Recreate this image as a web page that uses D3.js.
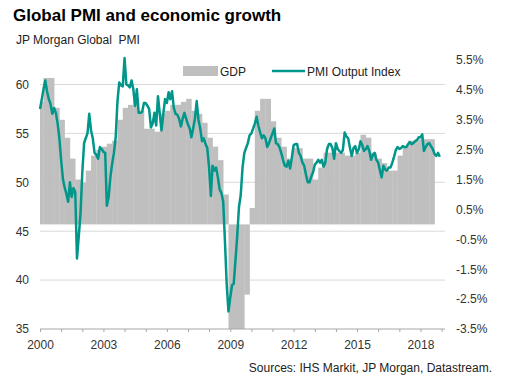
<!DOCTYPE html>
<html>
<head>
<meta charset="utf-8">
<script src="https://cdn.jsdelivr.net/npm/d3@7"></script>
<style>
  body { margin: 0; background: #fff; }
  svg text { font-family: Arial, "Liberation Sans", sans-serif; }
</style>
</head>
<body>
<div id="chart"></div>
<script>
// tick values
const yearLabels = [2000, 2003, 2006, 2009, 2012, 2015, 2018];
const pmiTicks = [35, 40, 45, 50, 55, 60];
const gdpTicks = [-3.5, -2.5, -1.5, -0.5, 0.5, 1.5, 2.5, 3.5, 4.5, 5.5];

// world GDP growth, % y/y, quarterly from 2000 Q1
const gdp = [
  4.1, 4.9, 4.9, 3.9,
  3.5, 2.9, 2.2, 1.5,
  1.4, 1.8, 2.3, 2.5,
  2.6, 2.7, 2.8, 3.5,
  3.9, 4.0, 4.2, 3.8,
  3.2, 3.2, 3.1, 3.7,
  3.8, 4.0, 4.0, 4.1,
  4.2, 3.8, 3.7, 3.4,
  2.9, 2.6, 2.15, 1.0,
  -3.8, -3.8, -3.8, -2.35,
  0.55, 3.8, 4.2, 4.2,
  3.45, 2.9, 2.6, 2.2,
  2.55, 2.55, 2.2, 2.2,
  1.5, 1.9, 2.4, 2.4,
  2.4, 2.4, 2.3, 2.3,
  2.4, 3.0, 2.9, 2.4,
  2.2, 2.05, 1.8, 1.8,
  2.3, 2.6, 2.8, 2.8,
  2.85, 2.85, 2.85
];

// JP Morgan Global PMI output index, monthly from Jan 2000
const pmi = [
  57.5, 58.5, 59.5, 60.4, 59.3, 58.5, 58.0, 57.0, 57.6, 57.1, 56.0, 54.5, // 2000
  52.2, 50.3, 49.5, 48.8, 48.0, 50.0, 48.5, 49.4, 49.0, 42.2, 44.5, 46.8, // 2001
  51.0, 54.0, 54.5, 55.0, 57.0, 55.3, 54.5, 53.0, 52.8, 52.4, 53.6, 53.4, // 2002
  53.1, 53.0, 47.6, 48.5, 50.5, 51.9, 53.0, 54.6, 58.3, 60.2, 59.9, 59.8, // 2003
  62.7, 60.0, 59.9, 59.7, 60.4, 59.5, 57.8, 59.5, 57.1, 57.1, 57.2, 58.1, // 2004
  58.1, 57.8, 57.5, 55.6, 56.0, 57.1, 55.8, 58.8, 57.0, 55.3, 57.0, 58.5, // 2005
  58.1, 59.2, 58.5, 59.3, 57.6, 57.0, 56.9, 56.5, 55.7, 56.5, 57.1, 56.5, // 2006
  55.9, 55.5, 54.6, 55.5, 56.5, 58.3, 56.4, 55.5, 54.2, 54.5, 53.9, 53.5, // 2007
  51.5, 48.6, 51.7, 51.2, 51.5, 50.5, 49.3, 48.9, 48.0, 44.0, 39.5, 36.8, // 2008
  38.2, 39.5, 39.6, 42.0, 44.5, 47.5, 48.7, 51.5, 53.0, 53.5, 54.0, 54.8, // 2009
  55.0, 55.5, 56.0, 56.7, 55.8, 55.1, 54.5, 54.8, 54.5, 53.6, 54.0, 54.5, // 2010
  55.0, 55.5, 54.0, 53.9, 53.6, 53.0, 52.3, 51.7, 51.6, 52.2, 51.4, 52.5, // 2011
  53.8, 53.9, 53.9, 53.0, 52.7, 52.0, 51.7, 50.8, 50.0, 50.0, 50.6, 51.0, // 2012
  51.8, 52.0, 52.3, 52.0, 52.3, 51.6, 52.0, 53.4, 53.9, 53.9, 53.5, 52.4, // 2013
  54.0, 53.4, 53.2, 53.0, 53.3, 55.1, 54.7, 54.5, 53.5, 52.7, 53.5, 53.7, // 2014
  53.0, 53.4, 54.2, 53.8, 53.2, 53.4, 53.7, 53.2, 52.3, 52.8, 53.0, 52.3, // 2015
  52.0, 51.2, 50.5, 51.7, 51.3, 51.2, 51.5, 51.5, 52.0, 52.6, 53.3, 53.6, // 2016
  53.4, 53.5, 53.7, 53.6, 53.6, 53.9, 54.1, 53.9, 54.0, 54.2, 54.3, 54.6, // 2017
  54.6, 54.9, 53.2, 53.6, 53.9, 54.0, 53.7, 53.4, 52.9, 52.7, 53.0, 52.6  // 2018
];

const width = 509;
const height = 387;
const plotLeft = 40, plotRight = 445, plotTop = 60, plotBottom = 329;

const svg = d3.select('#chart')
  .append('svg')
  .attr('width', width)
  .attr('height', height);

const start = new Date(2000, 0, 1);

const x = d3.scaleTime()
  .domain([start, new Date(2019, 2, 1)])
  .range([plotLeft, plotRight]);

const yL = d3.scaleLinear().domain([35, 62.5]).range([plotBottom, plotTop]);
const yR = d3.scaleLinear().domain([-3.5, 5.5]).range([plotBottom, plotTop]);

// titles
svg.append('text')
  .attr('x', 13).attr('y', 21)
  .attr('font-size', 17).attr('font-weight', 'bold')
  .attr('fill', '#000')
  .text('Global PMI and economic growth');

svg.append('text')
  .attr('x', 16).attr('y', 44)
  .attr('font-size', 12).attr('fill', '#222')
  .attr('xml:space', 'preserve')
  .text('JP Morgan Global  PMI');

// gridlines at left ticks
svg.append('g')
  .selectAll('line')
  .data(pmiTicks.filter(d => d > 35))
  .join('line')
  .attr('x1', plotLeft).attr('x2', plotRight)
  .attr('y1', d => yL(d)).attr('y2', d => yL(d))
  .attr('stroke', '#d9d9d9').attr('stroke-width', 1);

// clip to plot area
svg.append('clipPath').attr('id', 'plot')
  .append('rect')
  .attr('x', plotLeft).attr('y', plotTop - 10)
  .attr('width', plotRight - plotLeft).attr('height', plotBottom - plotTop + 10);

// GDP steps, one bar per quarter
const qStart = i => d3.timeMonth.offset(start, 3 * i - 1);
svg.append('g')
  .attr('clip-path', 'url(#plot)')
  .selectAll('rect')
  .data(gdp)
  .join('rect')
  .attr('x', (d, i) => x(qStart(i)))
  .attr('width', (d, i) => x(qStart(i + 1)) - x(qStart(i)) + 0.3)
  .attr('y', d => Math.min(yR(d), yR(0)))
  .attr('height', d => Math.abs(yR(d) - yR(0)))
  .attr('fill', '#bfbfbf');

// PMI line
const line = d3.line()
  .x((d, i) => x(d3.timeMonth.offset(start, i)))
  .y(d => yL(d));

svg.append('path')
  .datum(pmi)
  .attr('d', line)
  .attr('fill', 'none')
  .attr('stroke', '#00968a')
  .attr('stroke-width', 2.5)
  .attr('stroke-linejoin', 'round');

// x axis
const xAxis = svg.append('g')
  .attr('transform', `translate(0,${plotBottom})`)
  .call(d3.axisBottom(x)
    .ticks(d3.timeYear.every(1))
    .tickSize(3)
    .tickPadding(8)
    .tickFormat(d => yearLabels.includes(d.getFullYear()) ? d.getFullYear() : ''));
xAxis.select('.domain').attr('stroke', '#a6a6a6').attr('d', `M${plotLeft},0H${plotRight}`);
xAxis.selectAll('.tick line').attr('stroke', '#a6a6a6');
xAxis.selectAll('text').attr('font-size', 12).attr('fill', '#333').attr('font-family', null);

// left axis
const leftAxis = svg.append('g')
  .attr('transform', `translate(${plotLeft},0)`)
  .call(d3.axisLeft(yL).tickValues(pmiTicks).tickSize(0).tickPadding(11));
leftAxis.select('.domain').remove();
leftAxis.selectAll('text').attr('font-size', 12).attr('fill', '#333').attr('font-family', null);

// right axis
const rightAxis = svg.append('g')
  .attr('transform', `translate(${plotRight},0)`)
  .call(d3.axisRight(yR).tickValues(gdpTicks).tickSize(0).tickPadding(11)
    .tickFormat(d => d.toFixed(1) + '%'));
rightAxis.select('.domain').remove();
rightAxis.selectAll('text').attr('font-size', 12).attr('fill', '#333').attr('font-family', null);

// legend
const legend = svg.append('g');
legend.append('rect')
  .attr('x', 183).attr('y', 66).attr('width', 35).attr('height', 10)
  .attr('fill', '#bfbfbf');
legend.append('text')
  .attr('x', 220).attr('y', 75.5)
  .attr('font-size', 12).attr('fill', '#222')
  .text('GDP');
legend.append('line')
  .attr('x1', 272).attr('x2', 305).attr('y1', 71).attr('y2', 71)
  .attr('stroke', '#00968a').attr('stroke-width', 2.5);
legend.append('text')
  .attr('x', 307).attr('y', 75.5)
  .attr('font-size', 12).attr('fill', '#222')
  .text('PMI Output Index');

// source note
svg.append('text')
  .attr('x', 492).attr('y', 372)
  .attr('text-anchor', 'end')
  .attr('font-size', 12).attr('fill', '#222')
  .text('Sources: IHS Markit, JP Morgan, Datastream.');
</script>
</body>
</html>
